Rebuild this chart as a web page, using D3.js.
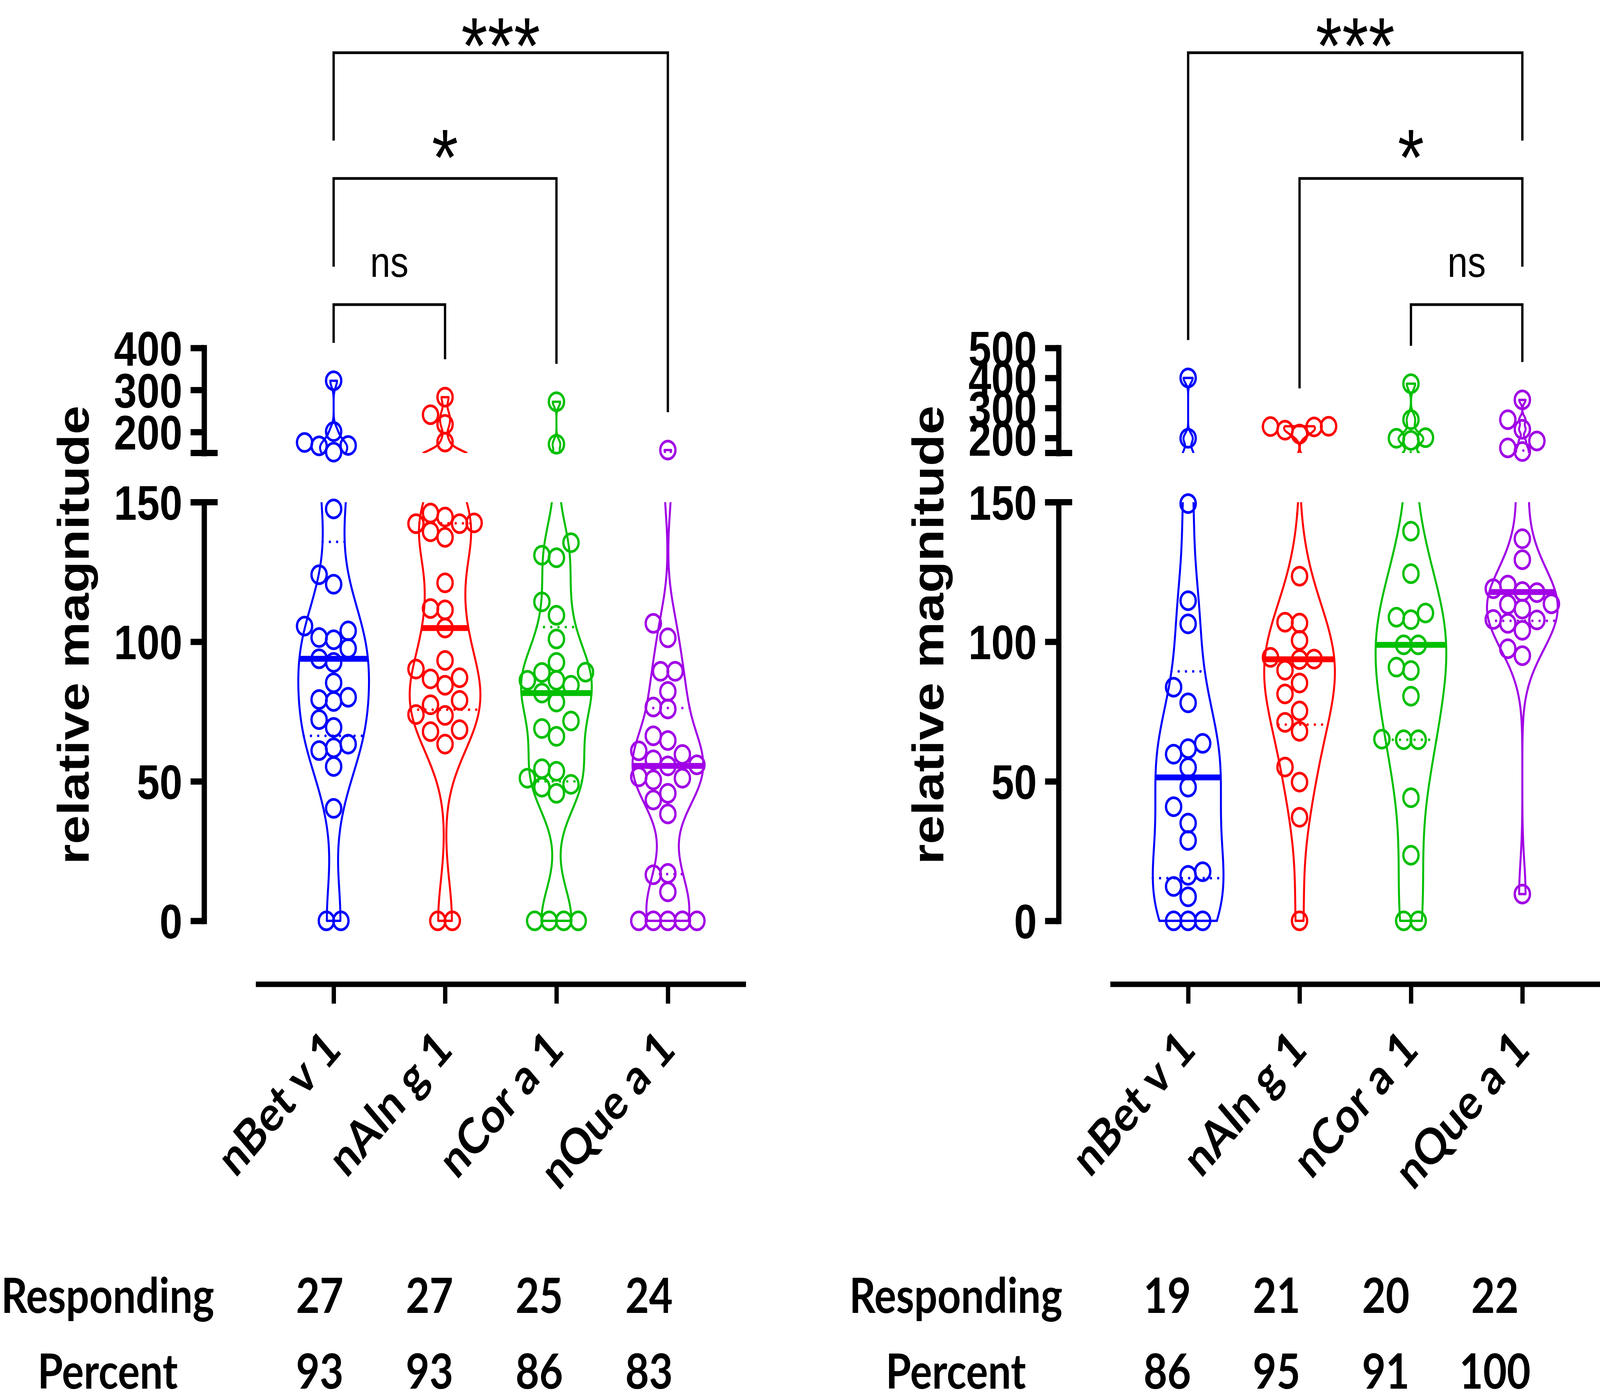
<!DOCTYPE html>
<html>
<head>
<meta charset="utf-8">
<title>relative magnitude violins</title>
<style>
  html, body { margin: 0; padding: 0; background: #fff; overflow: hidden; }
  svg { display: block; width: 100vw; height: 100vh; }
</style>
</head>
<body>
<svg id="chart"></svg>
<script src="https://d3js.org/d3.v7.min.js"></script>
<script>
// ---- data ----
var categories = ["nBet v 1", "nAln g 1", "nCor a 1", "nQue a 1"];
var colors = ["#0000FF", "#FF0000", "#00BF00", "#A100E6"];

var leftBetv1 = [0, 0, 40.3, 55.3, 61.0, 62.0, 63.3, 69.3, 72.1, 78.6, 79.3, 80.1, 85.3, 92.6, 93.9, 97.6, 100.7, 101.5, 103.9, 105.6, 120.6, 124.0, 147.6, 152, 167, 168, 175, 201, 322];
var leftAlng1 = [0, 0, 63.3, 67.8, 68.5, 73.6, 73.9, 77.4, 79.0, 84.4, 86.7, 87.1, 90.2, 93.3, 104.9, 111.4, 111.9, 121.1, 137.4, 139.4, 142.3, 142.3, 142.6, 144.7, 146.1, 176, 218, 241, 283];
var leftCora1 = [0, 0, 0, 0, 45.7, 47.9, 48.9, 51.1, 53.6, 54.5, 66.1, 68.9, 71.6, 78.4, 81.6, 84.4, 86.2, 86.2, 89.0, 89.1, 92.6, 101.0, 109.5, 114.3, 130.1, 131.0, 135.5, 171, 272];
var leftQuea1 = [0, 0, 0, 0, 0, 10.4, 16.5, 17.0, 38.3, 43.3, 45.7, 50.5, 51.1, 51.6, 55.5, 55.9, 57.7, 59.6, 60.9, 64.6, 66.3, 75.9, 76.6, 82.2, 89.4, 89.4, 101.4, 106.6, 157];

var rightBetv1 = [0, 0, 0, 8.6, 12.3, 16.3, 17.6, 28.8, 35.0, 40.9, 47.9, 54.9, 59.7, 61.7, 63.6, 78.1, 83.7, 106.4, 114.7, 149.5, 199, 400];
var rightAlng1 = [0, 37.1, 49.7, 55.1, 67.9, 71.1, 75.2, 81.3, 85.2, 89.8, 93.6, 93.8, 94.4, 100.5, 106.7, 107.0, 123.5, 213, 226, 237, 238, 239];
var rightCora1 = [0, 0, 23.5, 44.1, 64.9, 64.9, 65.1, 80.5, 89.7, 90.9, 98.9, 98.9, 107.9, 108.8, 110.3, 124.4, 139.6, 192, 199, 201, 261, 381];
var rightQuea1 = [9.6, 95.0, 97.5, 104.1, 106.6, 107.8, 108.0, 111.7, 113.4, 113.6, 117.6, 118.0, 119.0, 120.3, 129.4, 136.9, 155, 167, 190, 229, 261, 327];

var leftResponding = [27, 27, 25, 24];
var leftPercent = [93, 93, 86, 83];
var rightResponding = [19, 21, 20, 22];
var rightPercent = [86, 95, 91, 100];

// [from group, to group, label], top bracket first
var leftComparisons = [[0, 3, "***"], [0, 2, "*"], [0, 1, "ns"]];
var rightComparisons = [[0, 3, "***"], [1, 3, "*"], [2, 3, "ns"]];

var lowerTicks = [0, 50, 100, 150];
var leftUpperTicks = [200, 300, 400];
var rightUpperTicks = [200, 300, 400, 500];
var breakValue = 150;

// ---- layout (in reference pixels, the viewBox stretches it to the window) ----
var W = 4844, H = 3585;
var lowerRange = [2358, 1286], upperRange = [1160, 891];
var xAxisY = 2520, catLabelY = 2661, respondingY = 3362, percentY = 3556;
var bracketLevels = [135, 457, 780];
var legGap = 97;
var halfWidth = 107, pointR = 23, swarmStep = 44;

var numFont = "'Liberation Sans', Arial, sans-serif";
var textFont = "Lato, 'Open Sans', sans-serif";

var panels = [
    { id: "left", groups: [leftBetv1, leftAlng1, leftCora1, leftQuea1], top: 400, upperTicks: leftUpperTicks,
      responding: leftResponding, percent: leftPercent, comparisons: leftComparisons,
      axisX: 618, xStart: 774, xEnd: 2258, titleX: 269, tableLabelX: 326, tableX0: 968, tableX1: 1965 },
    { id: "right", groups: [rightBetv1, rightAlng1, rightCora1, rightQuea1], top: 500, upperTicks: rightUpperTicks,
      responding: rightResponding, percent: rightPercent, comparisons: rightComparisons,
      axisX: 3205, xStart: 3361, xEnd: 4845, titleX: 2856, tableLabelX: 2894, tableX0: 3534, tableX1: 4526 }
];

var svg = d3.select("#chart").attr("viewBox", [0, 0, W, H].join(" "))
    .attr("preserveAspectRatio", "none");
svg.append("rect").attr("width", W).attr("height", H).attr("fill", "#fff");
var defs = svg.append("defs");

// quartiles the (n+1)p way
function quantile(sorted, p) {
    var n = sorted.length, pos = (n + 1) * p;
    if (pos <= 1) return sorted[0];
    if (pos >= n) return sorted[n - 1];
    var i = Math.floor(pos), f = pos - i;
    return sorted[i - 1] + f * (sorted[i] - sorted[i - 1]);
}

function bandwidth(sorted) {
    var sd = d3.deviation(sorted);
    var iqr = quantile(sorted, 0.75) - quantile(sorted, 0.25);
    return 0.567 * Math.min(sd, iqr / 1.34) * Math.pow(sorted.length, -0.2);
}

// simple beeswarm: ties centred when they fit, others pushed to the nearest free slot
function swarm(values, yFn) {
    var sorted = values.slice().sort(d3.ascending);
    var clusters = [];
    sorted.forEach(function (v) {
        var last = clusters[clusters.length - 1];
        if (last && last.v === v) last.n += 1;
        else clusters.push({ v: v, n: 1 });
    });
    var order = [0];
    for (var k = 1; k < 15; k++) order.push(-k, k);
    var placed = [];
    var free = function (ox, py) {
        return placed.every(function (q) { return Math.hypot(q.x - ox, q.y - py) >= swarmStep; });
    };
    clusters.forEach(function (c) {
        var py = yFn(c.v);
        if (c.n > 1) {
            var offs = d3.range(c.n).map(function (j) { return (j - (c.n - 1) / 2) * swarmStep; });
            if (offs.every(function (ox) { return free(ox, py); })) {
                offs.forEach(function (ox) { placed.push({ x: ox, y: py }); });
                return;
            }
        }
        for (var j = 0; j < c.n; j++) {
            for (var oi = 0; oi < order.length; oi++) {
                var ox = order[oi] * swarmStep;
                if (free(ox, py)) { placed.push({ x: ox, y: py }); break; }
            }
        }
    });
    return placed;
}

function drawPanel(p) {
    var g = svg.append("g").attr("class", p.id);

    var x = d3.scalePoint().domain(categories).range([p.xStart, p.xEnd]).padding(0.7);
    var yLow = d3.scaleLinear().domain([0, breakValue]).range(lowerRange);
    var yUp = d3.scaleLinear().domain([breakValue, p.top]).range(upperRange);
    var y = function (v) { return v <= breakValue ? yLow(v) : yUp(v); };

    var clipId = "clip-" + p.id;
    var clip = defs.append("clipPath").attr("id", clipId);
    clip.append("rect").attr("x", p.xStart).attr("y", 0)
        .attr("width", p.xEnd - p.xStart).attr("height", upperRange[0]);
    clip.append("rect").attr("x", p.xStart).attr("y", lowerRange[1])
        .attr("width", p.xEnd - p.xStart).attr("height", H - lowerRange[1]);

    // y axes, two segments
    var gl = g.append("g").attr("transform", "translate(" + p.axisX + ",0)")
        .call(d3.axisLeft(yLow).tickValues(lowerTicks).tickSize(41).tickPadding(25).tickSizeOuter(0));
    var gu = g.append("g").attr("transform", "translate(" + p.axisX + ",0)")
        .call(d3.axisLeft(yUp).tickValues(p.upperTicks).tickSize(41).tickPadding(25).tickSizeOuter(0));
    [gl, gu].forEach(function (a) {
        a.select(".domain").attr("stroke", "#000").attr("stroke-width", 16).attr("stroke-linecap", "square");
        a.selectAll(".tick line").attr("stroke", "#000").attr("stroke-width", 16);
        a.selectAll(".tick text").attr("font-family", numFont).attr("font-weight", "bold")
            .attr("font-size", 124).attr("fill", "#000").attr("dy", "0.36em");
    });
    [lowerRange[1], upperRange[0]].forEach(function (yy) {
        g.append("line").attr("x1", p.axisX - 41).attr("x2", p.axisX + 41)
            .attr("y1", yy).attr("y2", yy).attr("stroke", "#000").attr("stroke-width", 16);
    });

    g.append("text")
        .attr("transform", "translate(" + p.titleX + "," + 1626 + ") rotate(-90)")
        .attr("text-anchor", "middle").attr("font-family", numFont).attr("font-weight", "bold")
        .attr("font-size", 133).text("relative magnitude");

    // x axis
    var gx = g.append("g").attr("transform", "translate(0," + xAxisY + ")")
        .call(d3.axisBottom(x).tickSize(50).tickSizeOuter(0).tickFormat(""));
    gx.select(".domain").attr("stroke", "#000").attr("stroke-width", 14);
    gx.selectAll(".tick line").attr("stroke", "#000").attr("stroke-width", 13);

    g.selectAll("text.cat").data(categories).join("text").attr("class", "cat")
        .attr("transform", function (d) { return "translate(" + (x(d) - 4) + "," + catLabelY + ") rotate(-45)"; })
        .attr("text-anchor", "end").attr("dy", "0.36em")
        .attr("font-family", textFont).attr("font-weight", "bold").attr("font-size", 126)
        .text(function (d) { return d; });

    // violins, medians, quartiles, points
    p.groups.forEach(function (vals, i) {
        var cx = x(categories[i]);
        var color = colors[i];
        var s = vals.slice().sort(d3.ascending);
        var lo = s[0], hi = s[s.length - 1];
        var h = bandwidth(s);
        var dens = function (v) {
            return d3.sum(s, function (xi) { var z = (v - xi) / h; return Math.exp(-0.5 * z * z); });
        };
        var samples = d3.range(0, 601).map(function (k) { return lo + (hi - lo) * k / 600; });
        if (lo < breakValue && hi > breakValue) samples.push(breakValue, breakValue + 1e-6);
        samples.sort(d3.ascending);
        var dmax = d3.max(samples, dens);
        var w = function (v) { return halfWidth * dens(v) / dmax; };

        var leftSide = samples.map(function (v) { return [cx - w(v), y(v)]; });
        var rightSide = samples.slice().reverse().map(function (v) { return [cx + w(v), y(v)]; });
        var vg = g.append("g").attr("clip-path", "url(#" + clipId + ")");
        vg.append("path").attr("d", d3.line()(leftSide.concat(rightSide)) + "Z")
            .attr("fill", "none").attr("stroke", color).attr("stroke-width", 6)
            .attr("stroke-linejoin", "round");

        var pts = swarm(vals, y);
        g.append("g").selectAll("circle").data(pts).join("circle")
            .attr("cx", function (d) { return cx + d.x; })
            .attr("cy", function (d) { return d.y; })
            .attr("r", pointR).attr("fill", "none").attr("stroke", color).attr("stroke-width", 7);

        [0.25, 0.75].forEach(function (q) {
            var qv = quantile(s, q);
            vg.append("line").attr("x1", cx - w(qv)).attr("x2", cx + w(qv))
                .attr("y1", y(qv)).attr("y2", y(qv))
                .attr("stroke", color).attr("stroke-width", 7)
                .attr("stroke-linecap", "round").attr("stroke-dasharray", "0 22");
        });
        var med = quantile(s, 0.5);
        vg.append("line").attr("x1", cx - w(med)).attr("x2", cx + w(med))
            .attr("y1", y(med)).attr("y2", y(med))
            .attr("stroke", color).attr("stroke-width", 15);
    });

    // significance brackets
    var dataTop = p.groups.map(function (vals) { return y(d3.max(vals)); });
    p.comparisons.forEach(function (c, level) {
        var by = bracketLevels[level];
        var legEnd = function (gi) {
            for (var l = level + 1; l < p.comparisons.length; l++) {
                var c2 = p.comparisons[l];
                if (c2[0] === gi || c2[1] === gi) return bracketLevels[l] - legGap;
            }
            return dataTop[gi] - legGap;
        };
        var x1 = x(categories[c[0]]), x2 = x(categories[c[1]]);
        g.append("path")
            .attr("d", "M" + x1 + "," + legEnd(c[0]) + "V" + by + "H" + x2 + "V" + legEnd(c[1]))
            .attr("fill", "none").attr("stroke", "#000").attr("stroke-width", 7);
        var star = c[2].indexOf("*") >= 0;
        var labelY = star ? Math.max(by + 17, 188) : by - 71;
        g.append("text").attr("x", (x1 + x2) / 2).attr("y", labelY)
            .attr("text-anchor", "middle").attr("font-family", numFont)
            .attr("font-size", star ? 205 : 110).text(c[2]);
    });

    // responding / percent table
    var tx = d3.scalePoint().domain(categories).range([p.tableX0, p.tableX1]);
    [["Responding", p.responding, respondingY], ["Percent", p.percent, percentY]].forEach(function (row) {
        g.append("text").attr("x", p.tableLabelX).attr("y", row[2]).attr("text-anchor", "middle")
            .attr("font-family", textFont).attr("font-weight", "bold").attr("font-size", 124).text(row[0]);
        g.append("g").selectAll("text").data(row[1]).join("text")
            .attr("x", function (d, i) { return tx(categories[i]); }).attr("y", row[2])
            .attr("text-anchor", "middle").attr("font-family", textFont).attr("font-weight", "bold")
            .attr("font-size", 124).text(function (d) { return d; });
    });
}

panels.forEach(drawPanel);
</script>
</body>
</html>
